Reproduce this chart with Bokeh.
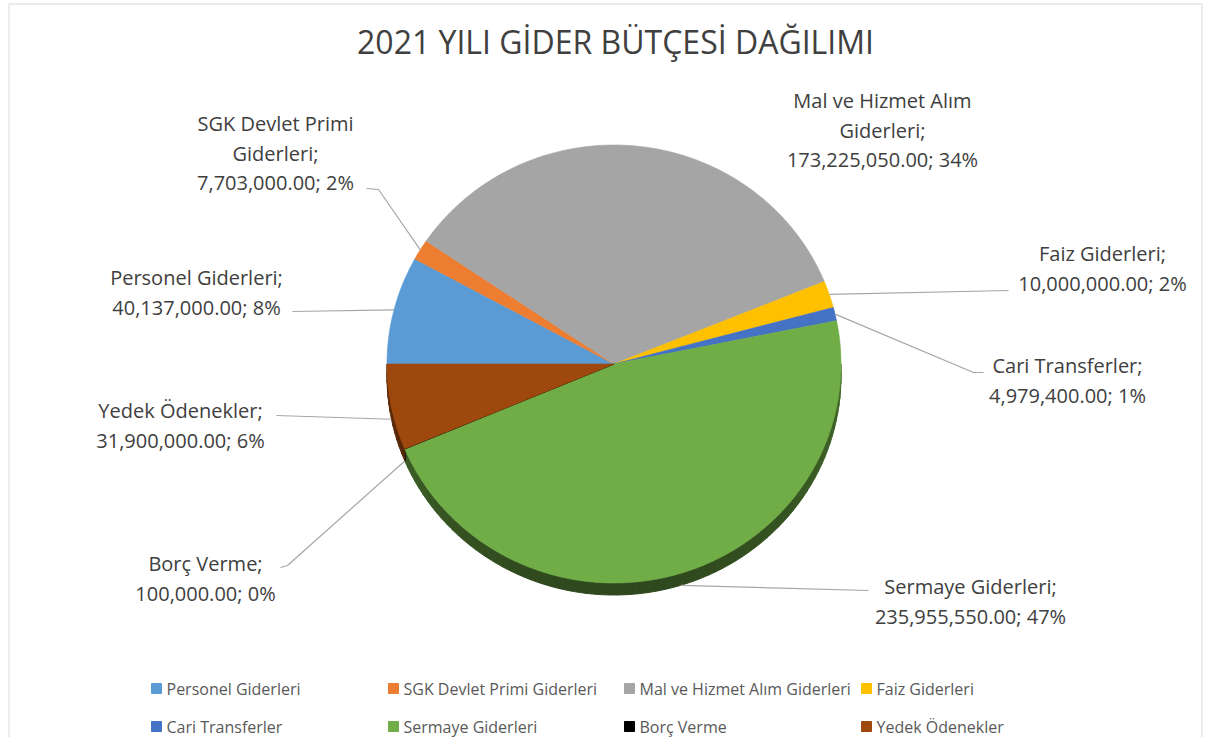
import numpy as np
from bokeh.plotting import figure
from bokeh.models import Range1d
from bokeh.core.properties import value
from bokeh.embed import file_html
from bokeh.resources import INLINE

# ---------------- data ----------------
categories = ["Personel Giderleri", "SGK Devlet Primi Giderleri", "Mal ve Hizmet Alım Giderleri",
              "Faiz Giderleri", "Cari Transferler", "Sermaye Giderleri", "Borç Verme", "Yedek Ödenekler"]
amounts = [40137000.00, 7703000.00, 173225050.00, 10000000.00, 4979400.00,
           235955550.00, 100000.00, 31900000.00]
colors = ["#5B9BD5", "#ED7D31", "#A5A5A5", "#FFC000", "#4472C4", "#70AD47", "#000000", "#9E480E"]
title_text = "2021 YILI GİDER BÜTÇESİ DAĞILIMI"

# ---------------- layout ----------------
W, H = 1203, 737
X0, Y0 = 0, 0
CX, CY, RX, RY, DEPTH = 613.5, 363.5, 227.0, 219.0, 12.0
START_ANGLE = 180.0          # first slice starts at 9 o'clock, clockwise
FONT = "Open Sans"
LABEL_SIZE = "20px"
LINE_STEP = 29.5
TEXT_COLOR = "#404040"
LEADER_COLOR = "#A6A6A6"

# per label: centre x, first line y, word-break in the name, leader points near the label
label_layout = [
    dict(x=196, y=277, brk=None, lead=[(292, 311)]),
    dict(x=275, y=123, brk=3, lead=[(366, 188), (378, 189)]),
    dict(x=882, y=100, brk=4, lead=None),
    dict(x=1102, y=253, brk=None, lead=[(1008, 290)]),
    dict(x=1067, y=365, brk=None, lead=[(983, 372), (973, 372)]),
    dict(x=970, y=586, brk=None, lead=[(868, 590)]),
    dict(x=205, y=563, brk=None, lead=[(280, 567), (287, 565)]),
    dict(x=180, y=410, brk=None, lead=[(276, 415)]),
]
legend_cols = [151, 388, 624, 861]
legend_rows = [688, 726]
border_left, border_top, border_right = 8.5, 3.5, 1201.5


def shade(hex_color, f):
    h = hex_color.lstrip("#")
    r, g, b = (int(h[i:i + 2], 16) for i in (0, 2, 4))
    return "#%02x%02x%02x" % (int(r * f), int(g * f), int(b * f))


def ex(a):
    return CX + RX * np.cos(np.radians(a))


def ey(a):
    return CY - RY * np.sin(np.radians(a))


p = figure(width=W, height=H, x_range=Range1d(X0, X0 + W), y_range=Range1d(Y0 + H, Y0),
           output_backend="svg", toolbar_location=None, x_axis_type=None, y_axis_type=None,
           min_border=0)
p.outline_line_color = None
p.background_fill_color = "white"
p.border_fill_color = "white"

# chart border (open at the bottom, as in the cropped original)
p.line([border_left, border_left, border_right, border_right],
       [H + 5, border_top, border_top, H + 5], line_color="#D9D9D9", line_width=1)

vals = np.array(amounts)
total = vals.sum()
fracs = vals / total
cum = np.concatenate([[0], np.cumsum(fracs)])
a_start = START_ANGLE - 360 * cum[:-1]
a_end = START_ANGLE - 360 * cum[1:]
a_mid = (a_start + a_end) / 2

# ---- side (3D depth) ----
side_xs, side_ys, side_cols = [], [], []
for i in range(len(vals)):
    hi = min(a_start[i], 0.0)
    lo = max(a_end[i], -180.0)
    if lo >= hi:
        continue
    n = max(2, int(np.ceil((hi - lo) / 2.0)))
    edges = np.linspace(hi, lo, n + 1)
    for k in range(n):
        seg = np.linspace(edges[k], edges[k + 1], 4)
        xs = list(ex(seg)) + list(ex(seg[::-1]))
        ys = list(ey(seg)) + list(ey(seg[::-1]) + DEPTH)
        m = (edges[k] + edges[k + 1]) / 2
        f = 0.62 + 0.2 * np.sin(np.radians(m))
        side_xs.append(xs)
        side_ys.append(ys)
        side_cols.append(shade(colors[i], f))
p.patches(side_xs, side_ys, fill_color=side_cols, line_color=side_cols, line_width=1)

# ---- top faces ----
top_xs, top_ys = [], []
for i in range(len(vals)):
    n = max(3, int(np.ceil(abs(a_start[i] - a_end[i]) / 1.0)) + 1)
    arc = np.linspace(a_start[i], a_end[i], n)
    top_xs.append([CX] + list(ex(arc)))
    top_ys.append([CY] + list(ey(arc)))
p.patches(top_xs, top_ys, fill_color=colors, line_color=colors, line_width=0.6)

# ---- leader lines ----
lx, ly = [], []
for i, lay in enumerate(label_layout):
    if not lay["lead"]:
        continue
    a = a_mid[i]
    px = ex(a)
    py = ey(a) + (DEPTH if np.sin(np.radians(a)) < 0 else 0)
    pts = list(lay["lead"]) + [(px, py)]
    lx.append([q[0] for q in pts])
    ly.append([q[1] for q in pts])
p.multi_line(lx, ly, line_color=LEADER_COLOR, line_width=1.2)

# ---- data labels ----
tx, ty, tt = [], [], []
for i, lay in enumerate(label_layout):
    words = categories[i].split(" ")
    if lay["brk"]:
        lines = [" ".join(words[:lay["brk"]]), " ".join(words[lay["brk"]:]) + ";"]
    else:
        lines = [categories[i] + ";"]
    lines.append(f"{amounts[i]:,.2f}; {round(fracs[i] * 100):.0f}%")
    for j, s in enumerate(lines):
        tx.append(lay["x"])
        ty.append(lay["y"] + j * LINE_STEP)
        tt.append(s)
p.text(tx, ty, text=tt, text_align="center", text_baseline="middle",
       text_font=value(FONT), text_font_size=LABEL_SIZE, text_color=TEXT_COLOR)

# ---- title ----
p.text([615], [41], text=[title_text], text_align="center", text_baseline="middle",
       text_font=value(FONT), text_font_size="32px", text_color=TEXT_COLOR)

# ---- legend ----
gx, gy, gc, gtx, gty, gt = [], [], [], [], [], []
for i, name in enumerate(categories):
    r, c = divmod(i, 4)
    gx.append(legend_cols[c] + 5)
    gy.append(legend_rows[r])
    gc.append(colors[i])
    gtx.append(legend_cols[c] + 15)
    gty.append(legend_rows[r])
    gt.append(name)
p.rect(gx, gy, width=10, height=10, fill_color=gc, line_color=gc)
p.text(gtx, gty, text=gt, text_align="left", text_baseline="middle",
       text_font=value(FONT), text_font_size="16px", text_color="#595959")

open("out.html", "w").write(file_html(p, INLINE))
